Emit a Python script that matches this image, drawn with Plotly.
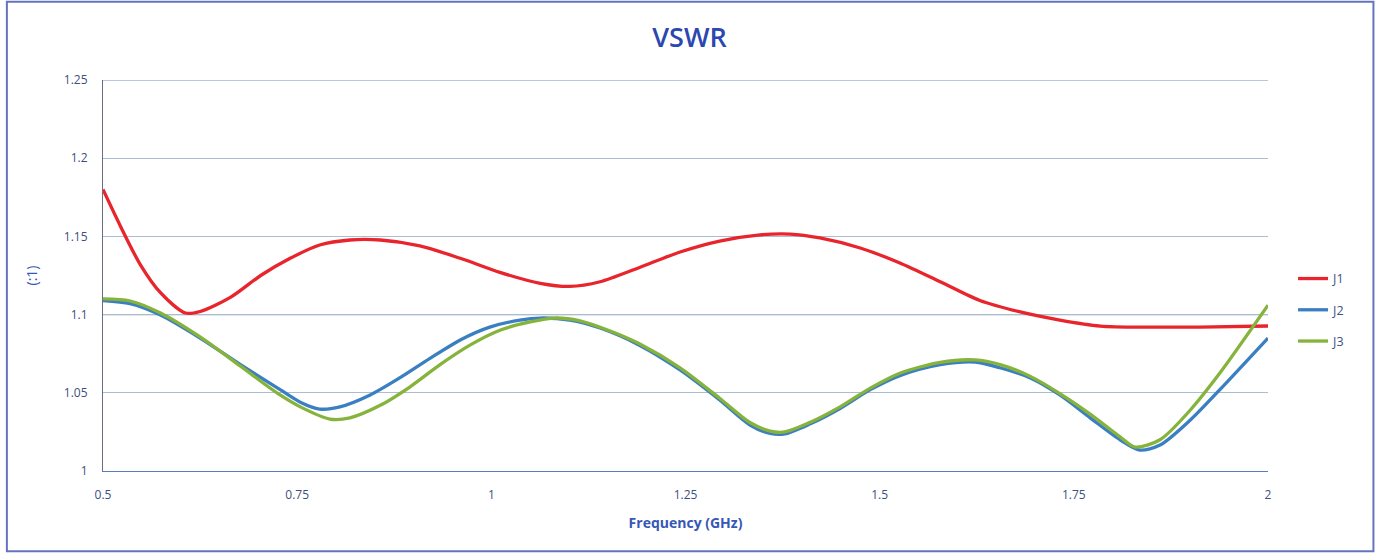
import plotly.graph_objects as go

# Frequency (GHz) and VSWR values
freq_j1 = [0.5, 0.522, 0.548, 0.574, 0.606, 0.625, 0.664, 0.703, 0.741, 0.779, 0.818, 0.857,
           0.908, 0.960, 1.011, 1.063, 1.101, 1.140, 1.190, 1.243, 1.294, 1.346, 1.385,
           1.423, 1.475, 1.526, 1.578, 1.629, 1.681, 1.732, 1.784, 1.848, 1.912, 2.0]
vswr_j1 = [1.180, 1.157, 1.132, 1.114, 1.101, 1.102, 1.111, 1.125, 1.136, 1.1445, 1.1477, 1.1477,
           1.144, 1.136, 1.127, 1.120, 1.118, 1.121, 1.130, 1.140, 1.147, 1.151, 1.1515,
           1.149, 1.1426, 1.133, 1.121, 1.109, 1.1017, 1.0965, 1.0927, 1.092, 1.092, 1.0927]

freq_j2 = [0.5, 0.535, 0.574, 0.625, 0.677, 0.728, 0.754, 0.779, 0.805, 0.844, 0.882, 0.921,
           0.960, 0.998, 1.037, 1.063, 1.101, 1.140, 1.190, 1.243, 1.294, 1.333, 1.359,
           1.378, 1.410, 1.449, 1.488, 1.526, 1.578, 1.623, 1.655, 1.694, 1.732, 1.771,
           1.810, 1.835, 1.861, 1.900, 1.938, 2.0]
vswr_j2 = [1.109, 1.107, 1.0997, 1.085, 1.068, 1.052, 1.044, 1.0396, 1.041, 1.0486, 1.0595, 1.072,
           1.0838, 1.092, 1.0965, 1.0978, 1.0965, 1.0914, 1.0806, 1.0646, 1.0454, 1.0294, 1.024,
           1.0237, 1.030, 1.040, 1.052, 1.061, 1.068, 1.0697, 1.066, 1.0595, 1.0486, 1.034,
           1.0198, 1.0134, 1.0166, 1.0326, 1.052, 1.085]

freq_j3 = [0.5, 0.535, 0.574, 0.625, 0.677, 0.728, 0.754, 0.792, 0.818, 0.857, 0.895, 0.934,
           0.973, 1.011, 1.050, 1.082, 1.114, 1.153, 1.190, 1.243, 1.294, 1.333, 1.359,
           1.378, 1.410, 1.449, 1.488, 1.526, 1.578, 1.623, 1.655, 1.694, 1.732, 1.771,
           1.810, 1.829, 1.861, 1.900, 1.938, 2.0]
vswr_j3 = [1.110, 1.1087, 1.101, 1.0857, 1.067, 1.0486, 1.041, 1.0332, 1.034, 1.042, 1.0537, 1.068,
           1.0806, 1.090, 1.0953, 1.0978, 1.096, 1.0895, 1.0815, 1.066, 1.0465, 1.031, 1.0255,
           1.025, 1.031, 1.041, 1.053, 1.0625, 1.0695, 1.071, 1.068, 1.0605, 1.0495, 1.0364,
           1.0217, 1.0153, 1.020, 1.039, 1.0626, 1.106]

series = [("J1", freq_j1, vswr_j1, "#e8242c"),
          ("J2", freq_j2, vswr_j2, "#3a7fc1"),
          ("J3", freq_j3, vswr_j3, "#86b33c")]

x_ticks = [0.5, 0.75, 1, 1.25, 1.5, 1.75, 2]
x_tick_labels = ["0.5", "0.75", "1", "1.25", "1.5", "1.75", "2"]
y_ticks = [1, 1.05, 1.1, 1.15, 1.2, 1.25]
y_tick_labels = ["1", "1.05", "1.1", "1.15", "1.2", "1.25"]

fig = go.Figure()
for name, xs, ys, col in series:
    fig.add_trace(go.Scatter(x=xs, y=ys, name=name, mode="lines",
                             line=dict(color=col, width=3.3, shape="spline", smoothing=0.8),
                             legendgroup=name))

font_fam = "Open Sans, Lato, sans-serif"
tick_col = "#3d4f80"

fig.update_layout(
    width=1379, height=555,
    margin=dict(l=103, r=111, t=80, b=84),
    paper_bgcolor="white", plot_bgcolor="white",
    title=dict(text="VSWR", x=0.5, xanchor="center", y=0.932, yanchor="middle",
               font=dict(family=font_fam, size=27, color="#2b47b0", weight=600)),
    showlegend=True,
    legend=dict(x=1.0215, y=0.412, xanchor="left", yanchor="middle",
                traceorder="grouped", tracegroupgap=12,
                font=dict(family=font_fam, size=12.5, color=tick_col),
                bgcolor="rgba(0,0,0,0)"),
    xaxis=dict(range=[0.5, 2], tickvals=x_ticks, ticktext=x_tick_labels,
               showgrid=False, zeroline=False,
               showline=True, linecolor="#5b7bc0", linewidth=1.2,
               ticks="", ticklabelstandoff=12,
               tickfont=dict(family=font_fam, size=12, color=tick_col),
               title=dict(text="<b>Frequency (GHz)</b>", standoff=16,
                          font=dict(family=font_fam, size=14, color="#3557b5"))),
    yaxis=dict(range=[1, 1.25], tickvals=y_ticks, ticktext=y_tick_labels,
               showgrid=True, gridcolor="#a9bdd3", gridwidth=1, zeroline=False,
               showline=True, linecolor="#6a6f80", linewidth=1,
               ticks="", ticklabelstandoff=12,
               tickfont=dict(family=font_fam, size=12, color=tick_col),
               title=dict(text="(:1)", standoff=22,
                          font=dict(family=font_fam, size=14, color="#3557b5"))),
)

# the 1.1 line slightly darker, top line bluish
fig.add_shape(type="line", xref="paper", yref="y", x0=0, x1=1, y0=1.1, y1=1.1,
              line=dict(color="#8f9aa8", width=1.2), layer="below")
fig.add_shape(type="line", xref="paper", yref="y", x0=0, x1=1, y0=1.25, y1=1.25,
              line=dict(color="#6f8fbf", width=1.2), layer="below")

# outer chart border
fig.add_shape(type="rect", xref="paper", yref="paper",
              x0=-0.0825, x1=1.0905, y0=-0.205, y1=1.2,
              line=dict(color="#6674bf", width=2), fillcolor="rgba(0,0,0,0)")

fig.write_html("out.html", config={"displayModeBar": False},
               post_script="document.body.style.margin='0';")
